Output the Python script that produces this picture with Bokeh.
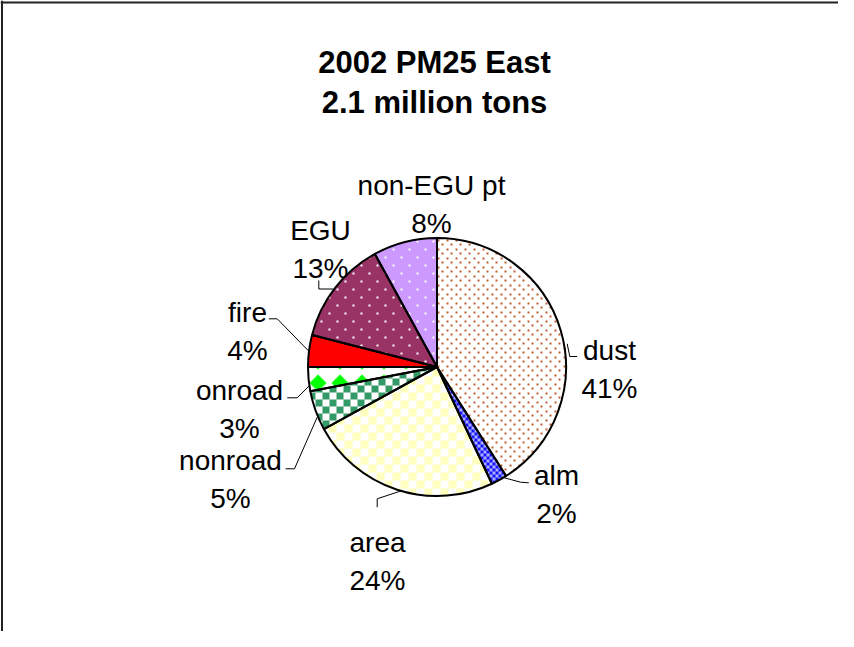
import math
import numpy as np
from bokeh.plotting import figure
from bokeh.models import Range1d, Span
from bokeh.embed import file_html
from bokeh.resources import INLINE
from bokeh.core.properties import value

# ---------------- data ----------------
TITLE_LINES = ["2002 PM25 East", "2.1 million tons"]
CATEGORIES = ["dust", "alm", "area", "nonroad", "onroad", "fire", "EGU", "non-EGU pt"]
PERCENTS = [41, 2, 24, 5, 3, 4, 13, 8]

# ---------------- styles ----------------
# base fill of each slice, and the texture drawn over it: (kind, on colour, off colour, size)
BASE_FILL = ["#FFFFFF", "#6A6AFF", "#FFFFE0", "#99CCB2", "#FFFFFF", "#FF0000", "#993366", "#CC99FF"]
TEXTURES = [
    ("dots", (192, 92, 46), None, 9),
    ("checker", (20, 20, 255), (175, 175, 255), 3),
    ("checker", (255, 255, 190), (255, 255, 255), 8),
    ("checker", (51, 153, 102), (255, 255, 255), 7),
    ("diamond", (0, 255, 0), (255, 255, 255), 22),
    (None, None, None, 0),
    ("dots", (255, 255, 255), None, 16),
    ("dots", (255, 255, 255), None, 16),
]
DIAMOND_ORIGIN = (317, 382)
DIAMOND_HALF = 8

# layout (pixel coordinates from the figure's top-left)
W, H = 838, 631
CX, CY, R = 436.5, 366.5, 129
FONT = "Liberation Sans"
LABEL_POS = [(609, 350), (556, 475), (377, 542), (230, 460), (239, 390), (247, 312), (320, 230), (431, 185)]
LINE_GAP = 38
LEADERS = [
    [(566.7, 343.3), (569.3, 356), (576.7, 356)],
    [(501.7, 476.7), (520, 481.7), (528.3, 482.3)],
    [(401.7, 490), (376.7, 498.3), (376.7, 506.7)],
    [(316.7, 416.7), (294, 468.3), (285, 468.3)],
    [(309, 385), (296.7, 397.3), (286.7, 397.3)],
    [(308.3, 350.7), (276.7, 318.3), (268.3, 318.3)],
    [(332.7, 288.5), (318.3, 288.5), (318.3, 280)],
]
TITLE_X, TITLE_BASE = 434, [62, 102]


def dy(py):
    return H - py


p = figure(width=W, height=H, output_backend="svg", toolbar_location=None,
           x_range=Range1d(0, W), y_range=Range1d(0, H),
           x_axis_location=None, y_axis_location=None, min_border=0)
p.grid.visible = False
p.outline_line_color = None
p.background_fill_color = "white"
p.border_fill_color = "white"

# frame edges (left and top visible)
p.add_layout(Span(location=1.5, dimension="height", line_color="#222222", line_width=2))
p.add_layout(Span(location=dy(2), dimension="width", line_color="#222222", line_width=2))

# slice angles
total = sum(PERCENTS)
bounds = [0.0]
for v in PERCENTS:
    bounds.append(bounds[-1] + 360.0 * v / total)
starts = [90 - b for b in bounds[:-1]]
ends = [90 - b for b in bounds[1:]]

# base fills
p.wedge(x=[CX] * len(PERCENTS), y=[dy(CY)] * len(PERCENTS), radius=R, radius_units="screen",
        start_angle=starts, end_angle=ends, start_angle_units="deg", end_angle_units="deg",
        direction="clock", fill_color=BASE_FILL, line_color=None)

# texture overlay, computed from the same slice angles
x0 = int(math.floor(CX - R - 3))
y0 = int(math.floor(CY - R - 3))
N = int(2 * R + 8)
ix, iy = np.meshgrid(np.arange(x0, x0 + N), np.arange(y0, y0 + N))
ddx = ix + 0.5 - CX
ddy = CY - (iy + 0.5)
rr = np.hypot(ddx, ddy)
theta = np.degrees(np.arctan2(ddx, ddy)) % 360
sl = np.searchsorted(np.array(bounds), theta, side="right") - 1
inside = rr <= R + 0.5
rgba = np.zeros((N, N, 4), dtype=np.uint8)
for i, (kind, on, off, s) in enumerate(TEXTURES):
    if kind is None:
        continue
    m = inside & (sl == i)
    if kind == "dots":
        h = s // 2
        pat = (((ix % s) < 2) & ((iy % s) < 2)) | ((((ix + h) % s) < 2) & (((iy + h) % s) < 2))
    elif kind == "checker":
        pat = ((ix // s + iy // s) % 2) == 0
    else:
        u = ((ix - DIAMOND_ORIGIN[0] + s // 2) % s) - s // 2
        w = ((iy - DIAMOND_ORIGIN[1] + s // 2) % s) - s // 2
        pat = (np.abs(u) + np.abs(w)) <= DIAMOND_HALF
    rgba[m & pat] = (*on, 255)
    if off is not None:
        rgba[m & ~pat] = (*off, 255)
img = np.ascontiguousarray(rgba[::-1]).view(np.uint32).reshape(N, N)
p.image_rgba(image=[img], x=x0, y=dy(y0 + N), dw=N, dh=N)

# outlines
p.wedge(x=[CX] * len(PERCENTS), y=[dy(CY)] * len(PERCENTS), radius=R, radius_units="screen",
        start_angle=starts, end_angle=ends, start_angle_units="deg", end_angle_units="deg",
        direction="clock", fill_color=None, line_color="black", line_width=2)

# leader lines
p.multi_line(xs=[[pt[0] for pt in L] for L in LEADERS], ys=[[dy(pt[1]) for pt in L] for L in LEADERS],
             line_color="black", line_width=1)

# labels
lx = [pos[0] for pos in LABEL_POS]
p.text(x=lx, y=[dy(pos[1]) for pos in LABEL_POS], text=CATEGORIES,
       text_font=value(FONT), text_font_size="28px", text_align="center",
       text_baseline="alphabetic", text_color="black")
p.text(x=lx, y=[dy(pos[1] + LINE_GAP) for pos in LABEL_POS], text=[f"{v}%" for v in PERCENTS],
       text_font=value(FONT), text_font_size="28px", text_align="center",
       text_baseline="alphabetic", text_color="black")

# title
p.text(x=[TITLE_X, TITLE_X], y=[dy(b) for b in TITLE_BASE], text=TITLE_LINES,
       text_font=value(FONT), text_font_size="31px", text_font_style="bold",
       text_align="center", text_baseline="alphabetic", text_color="black")

open("out.html", "w").write(file_html(p, INLINE))
